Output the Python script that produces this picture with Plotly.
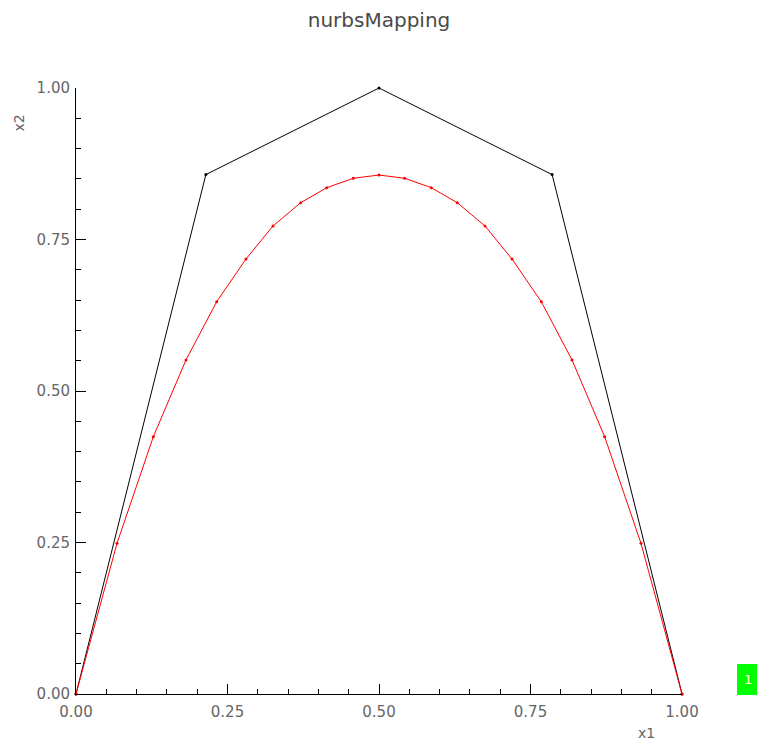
import plotly.graph_objects as go

control_x = [0.0, 0.2143, 0.5, 0.7857, 1.0]
control_y = [0.0, 0.8571, 1.0, 0.8571, 0.0]

curve_x = [0.0, 0.0677, 0.1276, 0.1815, 0.2322, 0.2805, 0.3251, 0.3708, 0.4137, 0.4576, 0.5,
           0.5424, 0.5863, 0.6292, 0.6749, 0.7195, 0.7678, 0.8185, 0.8724, 0.9323, 1.0]
curve_y = [0.0, 0.2487, 0.4246, 0.5512, 0.6474, 0.7178, 0.7723, 0.8107, 0.8355, 0.851, 0.8564,
           0.851, 0.8355, 0.8107, 0.7723, 0.7178, 0.6474, 0.5512, 0.4246, 0.2487, 0.0]

tick_vals = [0.0, 0.25, 0.5, 0.75, 1.0]
tick_text = ["0.00", "0.25", "0.50", "0.75", "1.00"]

font_family = "DejaVu Sans"
text_color = "#666666"

W, H = 757, 741
PL, PR, PT, PB = 76, 682, 88, 694  # plot area in page pixels
PW, PH = PR - PL, PB - PT


def px(xp):
    return (xp - PL) / PW


def py(yp):
    return (PB - yp) / PH


fig = go.Figure()
fig.add_trace(go.Scatter(x=control_x, y=control_y, mode="lines+markers",
                         line=dict(color="black", width=1),
                         marker=dict(color="black", size=3),
                         cliponaxis=False, showlegend=False))
fig.add_trace(go.Scatter(x=curve_x, y=curve_y, mode="lines+markers",
                         line=dict(color="red", width=1),
                         marker=dict(color="red", size=3),
                         cliponaxis=False, showlegend=False))

axis_common = dict(
    range=[0, 1], showgrid=False, zeroline=False,
    showline=True, linecolor="black", linewidth=1,
    ticks="inside", ticklen=10, tickcolor="black", tickwidth=1,
    tickvals=tick_vals, ticktext=tick_text,
    tickfont=dict(family=font_family, size=15, color=text_color),
    minor=dict(ticks="inside", ticklen=5, dtick=0.05, tickcolor="black", tickwidth=1, showgrid=False),
    fixedrange=True,
)

fig.update_layout(
    width=W, height=H,
    margin=dict(l=PL, r=W - PR, t=PT, b=H - PB),
    paper_bgcolor="white", plot_bgcolor="white",
    title=dict(text="nurbsMapping", x=379 / W, xanchor="center",
               y=1 - 20 / H, yanchor="middle", xref="container", yref="container",
               font=dict(family=font_family, size=20, color="#4a4a4a")),
    xaxis=dict(**axis_common, ticklabelstandoff=4),
    yaxis=dict(**axis_common, ticklabelstandoff=2),
    showlegend=False,
)

fig.add_annotation(text="x1", xref="paper", yref="paper", x=px(646), y=py(732.5),
                   showarrow=False, xanchor="center", yanchor="middle",
                   font=dict(family=font_family, size=14, color=text_color))
fig.add_annotation(text="x2", xref="paper", yref="paper", x=px(18.5), y=py(123),
                   showarrow=False, xanchor="center", yanchor="middle", textangle=-90,
                   font=dict(family=font_family, size=14, color=text_color))

fig.add_shape(type="rect", xref="paper", yref="paper",
              x0=px(737), x1=px(757), y0=py(695), y1=py(664),
              fillcolor="#00ff00", line=dict(width=0))
fig.add_annotation(text="1", xref="paper", yref="paper", x=px(748), y=py(679),
                   showarrow=False, xanchor="center", yanchor="middle",
                   font=dict(family=font_family, size=13, color="white"))

fig.write_html("out.html",
               config={"displayModeBar": False, "staticPlot": True},
               post_script="document.body.style.margin='0';document.body.style.overflow='hidden';")
